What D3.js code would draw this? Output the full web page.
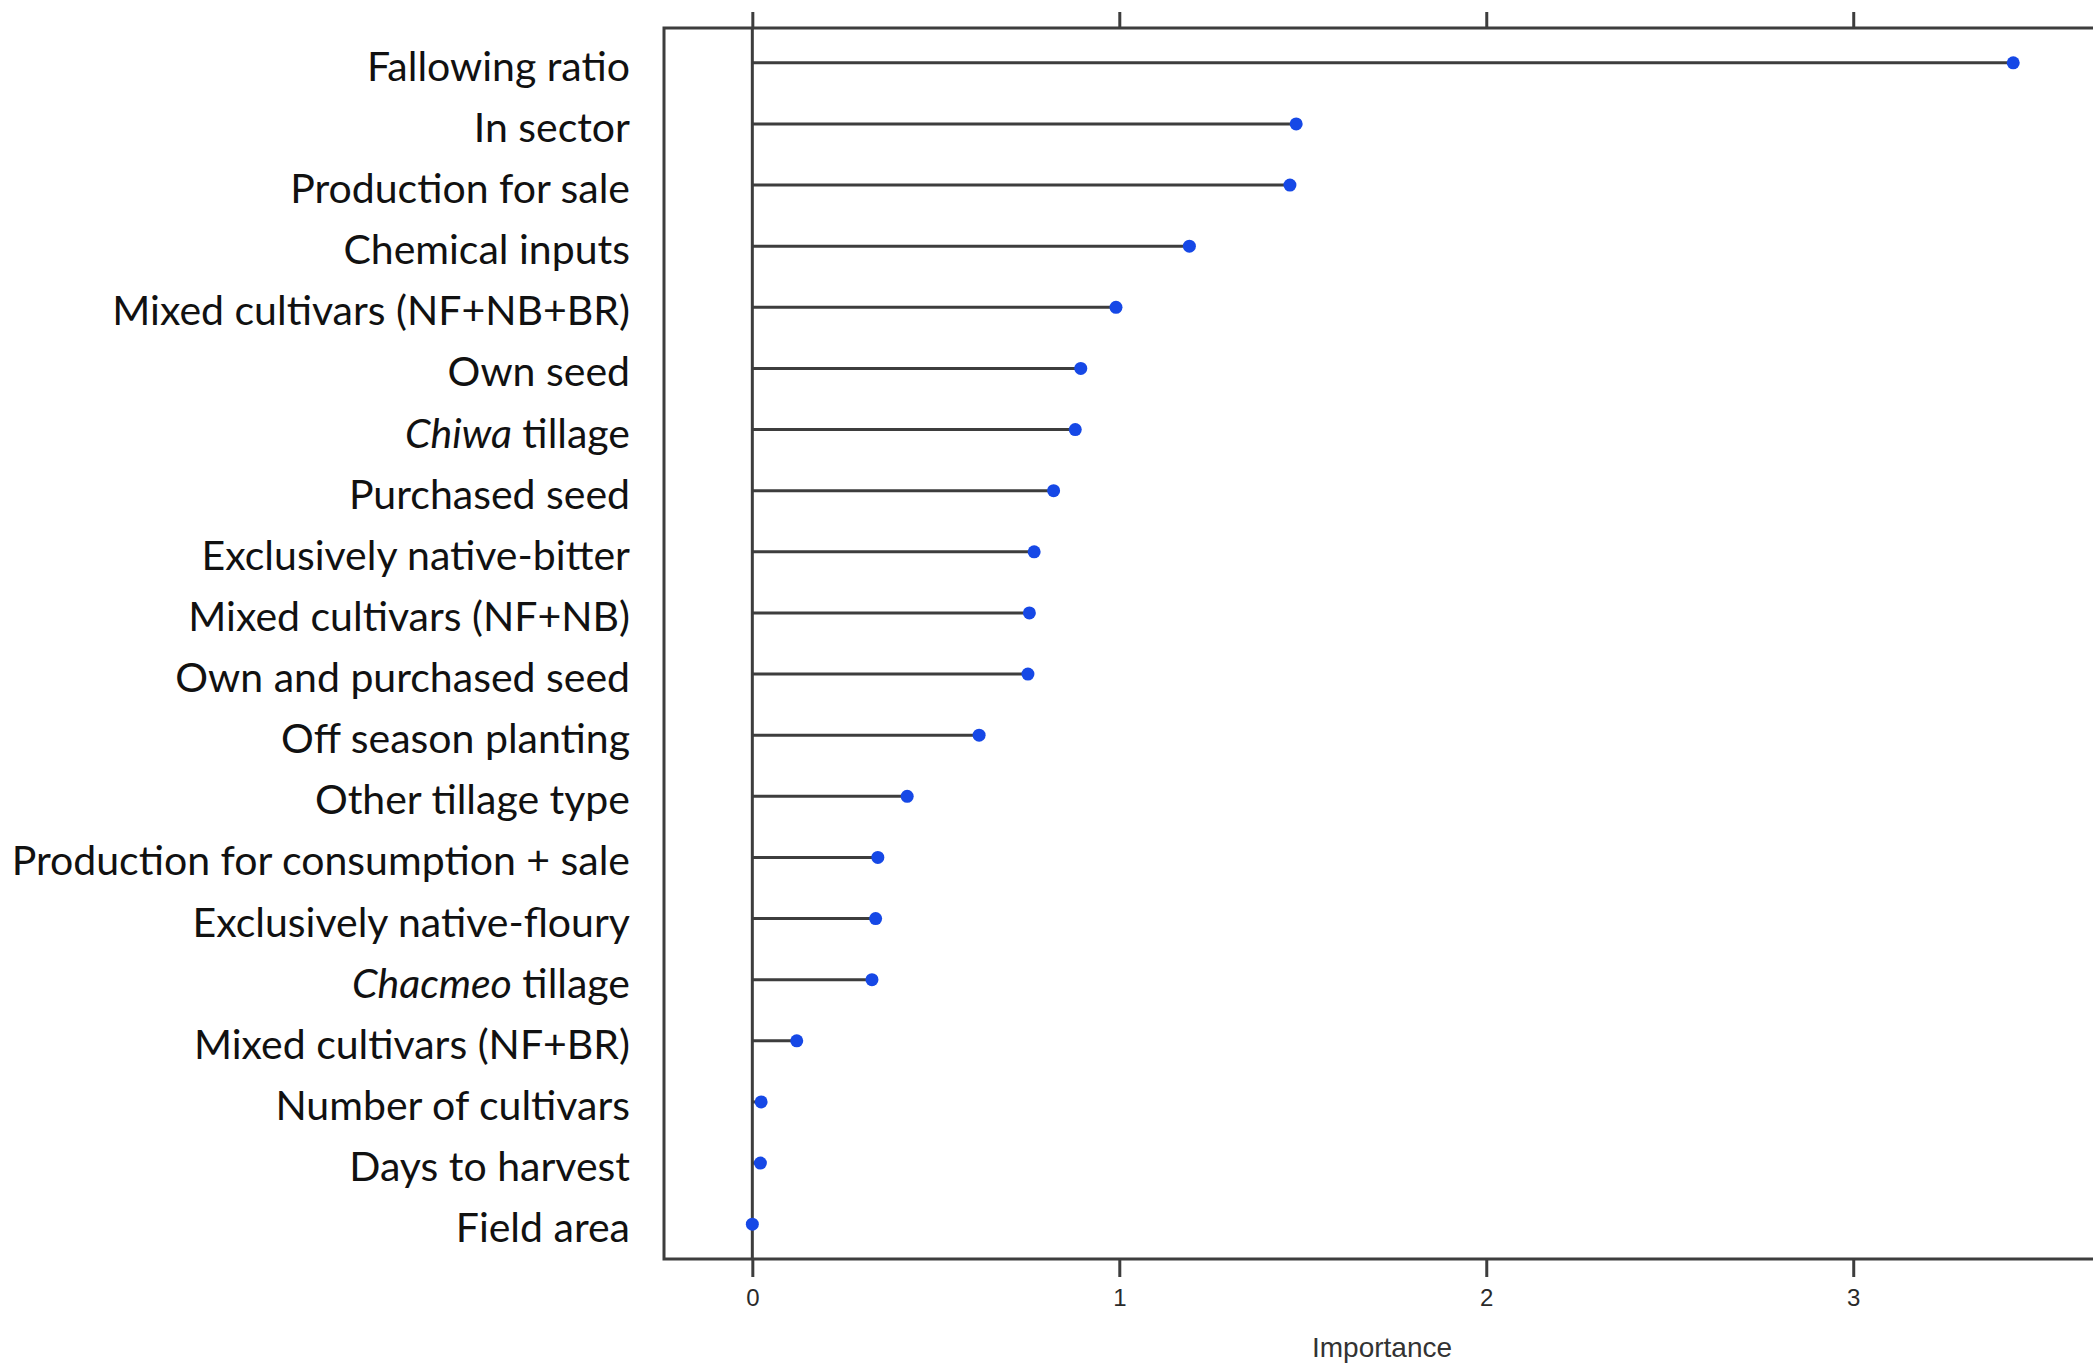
<!DOCTYPE html>
<html>
<head>
<meta charset="utf-8">
<script src="https://cdn.jsdelivr.net/npm/d3@7"></script>
<style>
  html, body { margin: 0; padding: 0; background: #fff; }
  svg { display: block; }
</style>
</head>
<body>
<svg id="chart" width="2093" height="1371"></svg>
<script>
// ---- data ----
const categories = [
  "Fallowing ratio",
  "In sector",
  "Production for sale",
  "Chemical inputs",
  "Mixed cultivars (NF+NB+BR)",
  "Own seed",
  "Chiwa tillage",
  "Purchased seed",
  "Exclusively native-bitter",
  "Mixed cultivars (NF+NB)",
  "Own and purchased seed",
  "Off season planting",
  "Other tillage type",
  "Production for consumption + sale",
  "Exclusively native-floury",
  "Chacmeo tillage",
  "Mixed cultivars (NF+BR)",
  "Number of cultivars",
  "Days to harvest",
  "Field area"
];
const importance = [
  3.436, 1.482, 1.465, 1.191, 0.991, 0.895, 0.880, 0.821, 0.768, 0.755,
  0.751, 0.618, 0.422, 0.342, 0.336, 0.326, 0.121, 0.024, 0.022, 0.000
];
const italicWords = ["Chiwa", "Chacmeo"];
const xTicks = [0, 1, 2, 3];
const xTitle = "Importance";

// ---- layout ----
const box = { left: 664, top: 28, right: 2098, bottom: 1259 };
const svg = d3.select("#chart");

const x = d3.scaleLinear().domain([-0.2407, 3.667]).range([box.left, box.right]);
const y = d3.scalePoint().domain(categories).range([box.top, box.bottom]).padding(0.57);

const lineColor = "#3d3d3d";
const dotColor = "#1648e6";

// box
svg.append("rect")
  .attr("x", box.left).attr("y", box.top)
  .attr("width", box.right - box.left).attr("height", box.bottom - box.top)
  .attr("fill", "none").attr("stroke", lineColor).attr("stroke-width", 3);

// top axis (ticks only)
const gTop = svg.append("g").attr("transform", `translate(0,${box.top})`)
  .call(d3.axisTop(x).tickValues(xTicks).tickSize(16).tickSizeOuter(0).tickFormat(""));
gTop.select(".domain").remove();
gTop.selectAll("line").attr("stroke", lineColor).attr("stroke-width", 3);

// bottom axis
const gBot = svg.append("g").attr("transform", `translate(0,${box.bottom})`)
  .call(d3.axisBottom(x).tickValues(xTicks).tickSize(18).tickSizeOuter(0).tickPadding(12).tickFormat(d3.format("d")));
gBot.select(".domain").remove();
gBot.selectAll("line").attr("stroke", lineColor).attr("stroke-width", 3);
gBot.selectAll("text")
  .attr("font-family", "'Liberation Sans', Arial, sans-serif")
  .attr("font-size", 24).attr("fill", "#2a2a2a");

// zero reference line
svg.append("line")
  .attr("x1", x(0)).attr("x2", x(0))
  .attr("y1", box.top).attr("y2", box.bottom)
  .attr("stroke", lineColor).attr("stroke-width", 3);

// axis title
svg.append("text")
  .attr("x", 1382).attr("y", 1357)
  .attr("text-anchor", "middle")
  .attr("font-family", "'Liberation Sans', Arial, sans-serif")
  .attr("font-size", 28).attr("fill", "#333")
  .text(xTitle);

// stems
svg.append("g").selectAll("line")
  .data(categories)
  .join("line")
  .attr("x1", x(0))
  .attr("x2", (d, i) => x(importance[i]))
  .attr("y1", d => y(d)).attr("y2", d => y(d))
  .attr("stroke", lineColor).attr("stroke-width", 3);

// dots
svg.append("g").selectAll("circle")
  .data(categories)
  .join("circle")
  .attr("cx", (d, i) => x(importance[i]))
  .attr("cy", d => y(d))
  .attr("r", 6.5)
  .attr("fill", dotColor);

// category labels
const labels = svg.append("g")
  .attr("font-family", "Lato, 'Open Sans', sans-serif")
  .attr("font-size", 41)
  .attr("fill", "#111")
  .attr("text-anchor", "end");

labels.selectAll("text")
  .data(categories)
  .join("text")
  .attr("x", 630)
  .attr("y", d => y(d) + 18)
  .each(function (d) {
    const t = d3.select(this);
    const iw = italicWords.find(w => d.startsWith(w));
    if (iw) {
      t.append("tspan").attr("font-style", "italic").text(iw);
      t.append("tspan").text(d.slice(iw.length));
    } else {
      t.text(d);
    }
  });
</script>
</body>
</html>
